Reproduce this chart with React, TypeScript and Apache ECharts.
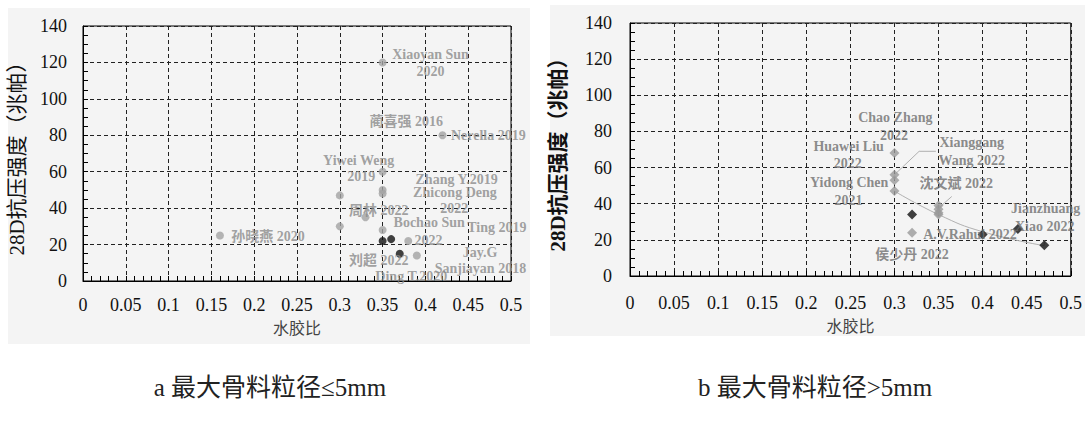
import React, { useEffect, useRef } from "react";
import * as echarts from "echarts";

// ---------- data ----------
const leftGreyPoints: [number, number][] = [
  [0.35, 120], [0.42, 80], [0.35, 60], [0.35, 50], [0.35, 48], [0.3, 47],
  [0.3, 30], [0.33, 35], [0.35, 28], [0.16, 25], [0.38, 22], [0.39, 14],
];
const leftBlackPoints: [number, number][] = [[0.35, 22], [0.36, 23], [0.37, 15]];
const leftLabels: [number, number, string][] = [
  [0.406, 124.4, "Xiaoyan Sun"], [0.406, 114.9, "2020"],
  [0.3775, 87.5, "蔺喜强 2016"], [0.4735, 79.8, "Nerella 2019"],
  [0.322, 66.4, "Yiwei Weng"], [0.325, 57.3, "2019"],
  [0.4365, 56.0, "Zhang Y.2019"], [0.4345, 48.4, "Zhicong Deng"], [0.4337, 40.0, "2022"],
  [0.3454, 38.6, "周林 2022"], [0.4044, 31.9, "Bochao Sun"], [0.4036, 22.5, "2022"],
  [0.4835, 29.3, "Ting 2019"], [0.216, 24.7, "孙晓燕 2020"], [0.4639, 15.7, "Jay.G"],
  [0.3454, 11.5, "刘超 2022"], [0.4643, 7.0, "Sanjiayan 2018"], [0.3835, 2.7, "Ding T.2020"],
];
const rightGreyPoints: [number, number][] = [
  [0.3, 68], [0.3, 56], [0.3, 53], [0.3, 47], [0.32, 24],
  [0.35, 39], [0.35, 37], [0.35, 35], [0.35, 34],
];
const rightBlackPoints: [number, number][] = [[0.32, 34], [0.4, 23], [0.44, 26], [0.47, 17]];
const rightTrend: [number, number][] = [[0.3, 47], [0.35, 34], [0.4, 24.5], [0.47, 16.8]];
const rightLeaders: [number, number][][] = [
  [[0.3, 56], [0.328, 69], [0.347, 69]],
  [[0.351, 38], [0.365, 44]],
  [[0.47, 19.8], [0.47, 17]],
];
const rightLabels: [number, number, string][] = [
  [0.301, 87.5, "Chao Zhang"], [0.2995, 77.9, "2022"],
  [0.248, 71.8, "Huawei Liu"], [0.247, 62.3, "2022"],
  [0.3877, 73.7, "Xianggang"], [0.3877, 63.9, "Wang 2022"],
  [0.2486, 51.9, "Yidong Chen"], [0.248, 42.0, "2021"],
  [0.37, 51.2, "沈文斌 2022"], [0.4716, 37.4, "Jianzhuang"], [0.4704, 27.6, "Xiao 2022"],
  [0.3857, 23.0, "A.V.Rahul 2022"], [0.32, 12.0, "侯少丹 2022"],
];
const xName = "水胶比";
const yName = "28D抗压强度（兆帕）";
const captions = ["a 最大骨料粒径≤5mm", "b 最大骨料粒径>5mm"];

const SERIF = "Liberation Serif, Noto Sans CJK SC, serif";
const SANS = "Noto Sans CJK SC, sans-serif";

function makeX(idx: number, margin: number, nameGap: number) {
  return {
    type: "value", gridIndex: idx, min: 0, max: 0.5, interval: 0.05,
    name: xName, nameLocation: "middle", nameGap,
    nameTextStyle: { fontFamily: SANS, fontSize: 16, color: "#444" },
    axisLine: { show: true, lineStyle: { color: "#000", width: 1 } },
    axisTick: { show: true, inside: true, length: 5, lineStyle: { color: "#000" } },
    minorTick: { show: true, splitNumber: 5, length: 5, lineStyle: { color: "#000" } },
    axisLabel: {
      margin, color: "#111", fontFamily: SERIF, fontSize: 18,
      formatter: (v: number) => String(+v.toFixed(2)),
    },
    splitLine: { show: true, lineStyle: { color: "#222", type: [4, 3], width: 1 } },
  };
}
function makeY(idx: number, margin: number, nameGap: number, bold: boolean) {
  return {
    type: "value", gridIndex: idx, min: 0, max: 140, interval: 20,
    name: yName, nameLocation: "middle", nameGap, nameRotate: 90,
    nameTextStyle: { fontFamily: SERIF, fontSize: 21, color: "#111", fontWeight: bold ? "bold" : "normal" },
    axisLine: { show: true, lineStyle: { color: "#000", width: 1 } },
    axisTick: { show: true, inside: true, length: 5, lineStyle: { color: "#000" } },
    minorTick: { show: true, splitNumber: 4, length: 5, lineStyle: { color: "#000" } },
    axisLabel: { margin, color: "#111", fontFamily: SERIF, fontSize: 18 },
    splitLine: { show: true, lineStyle: { color: "#222", type: [4, 3], width: 1 } },
  };
}
function labelSeries(idx: number, items: [number, number, string][], color: string) {
  return {
    type: "scatter", xAxisIndex: idx, yAxisIndex: idx, symbolSize: 0, z: 5,
    data: items.map((d) => ({ value: [d[0], d[1]], name: d[2] })),
    label: {
      show: true, position: "inside", formatter: "{b}",
      fontFamily: SERIF, fontSize: 14, fontWeight: "bold", color, lineHeight: 14,
    },
  };
}

export default function App() {
  const ref = useRef<HTMLDivElement>(null);
  useEffect(() => {
    if (!ref.current) return;
    const chart = echarts.init(ref.current, undefined, { renderer: "svg" });
    const leaderSeries = rightLeaders.map((pts) => ({
      type: "line", xAxisIndex: 1, yAxisIndex: 1, data: pts, showSymbol: false, symbol: "none",
      lineStyle: { color: "#b0b0b0", width: 1 }, z: 3,
    }));
    chart.setOption({
      animation: false,
      backgroundColor: "#ffffff",
      textStyle: { fontFamily: SERIF },
      graphic: [
        { type: "rect", z: -10, silent: true, shape: { x: 8, y: 8, width: 522, height: 336 }, style: { fill: "#f4f4f4" } },
        { type: "rect", z: -10, silent: true, shape: { x: 550, y: 5, width: 535, height: 331 }, style: { fill: "#f4f4f4" } },
        { type: "text", x: 270, y: 387, style: { text: captions[0], fontFamily: SERIF, fontSize: 25, fill: "#222", align: "center", verticalAlign: "middle" } },
        { type: "text", x: 815, y: 387, style: { text: captions[1], fontFamily: SERIF, fontSize: 25, fill: "#222", align: "center", verticalAlign: "middle" } },
      ],
      grid: [
        { left: 83, top: 26, width: 428, height: 255, show: true, borderColor: "#000", borderWidth: 1, backgroundColor: "transparent" },
        { left: 630, top: 23, width: 441, height: 253, show: true, borderColor: "#000", borderWidth: 1, backgroundColor: "transparent" },
      ],
      xAxis: [makeX(0, 15, 36), makeX(1, 18, 38)],
      yAxis: [makeY(0, 16, 56, false), makeY(1, 18, 62, true)],
      series: [
        { type: "scatter", xAxisIndex: 0, yAxisIndex: 0, data: leftGreyPoints, symbol: "circle", symbolSize: 8, itemStyle: { color: "#a3a3a3" }, z: 4 },
        { type: "scatter", xAxisIndex: 0, yAxisIndex: 0, data: leftBlackPoints, symbol: "circle", symbolSize: 8, itemStyle: { color: "#111" }, z: 4 },
        labelSeries(0, leftLabels, "#8a8a8a"),
        { type: "line", xAxisIndex: 1, yAxisIndex: 1, data: rightTrend, smooth: true, showSymbol: false, symbol: "none", lineStyle: { color: "#b0b0b0", width: 1 }, z: 3 },
        ...leaderSeries,
        { type: "scatter", xAxisIndex: 1, yAxisIndex: 1, data: rightGreyPoints, symbol: "diamond", symbolSize: 10, itemStyle: { color: "#9a9a9a" }, z: 4 },
        { type: "scatter", xAxisIndex: 1, yAxisIndex: 1, data: rightBlackPoints, symbol: "diamond", symbolSize: 10, itemStyle: { color: "#111" }, z: 4 },
        labelSeries(1, rightLabels, "#6e6e6e"),
      ],
    });
    return () => chart.dispose();
  }, []);
  return (
    <div
      ref={ref}
      style={{ position: "fixed", left: 0, top: 0, width: 1085, height: 425 }}
    />
  );
}
